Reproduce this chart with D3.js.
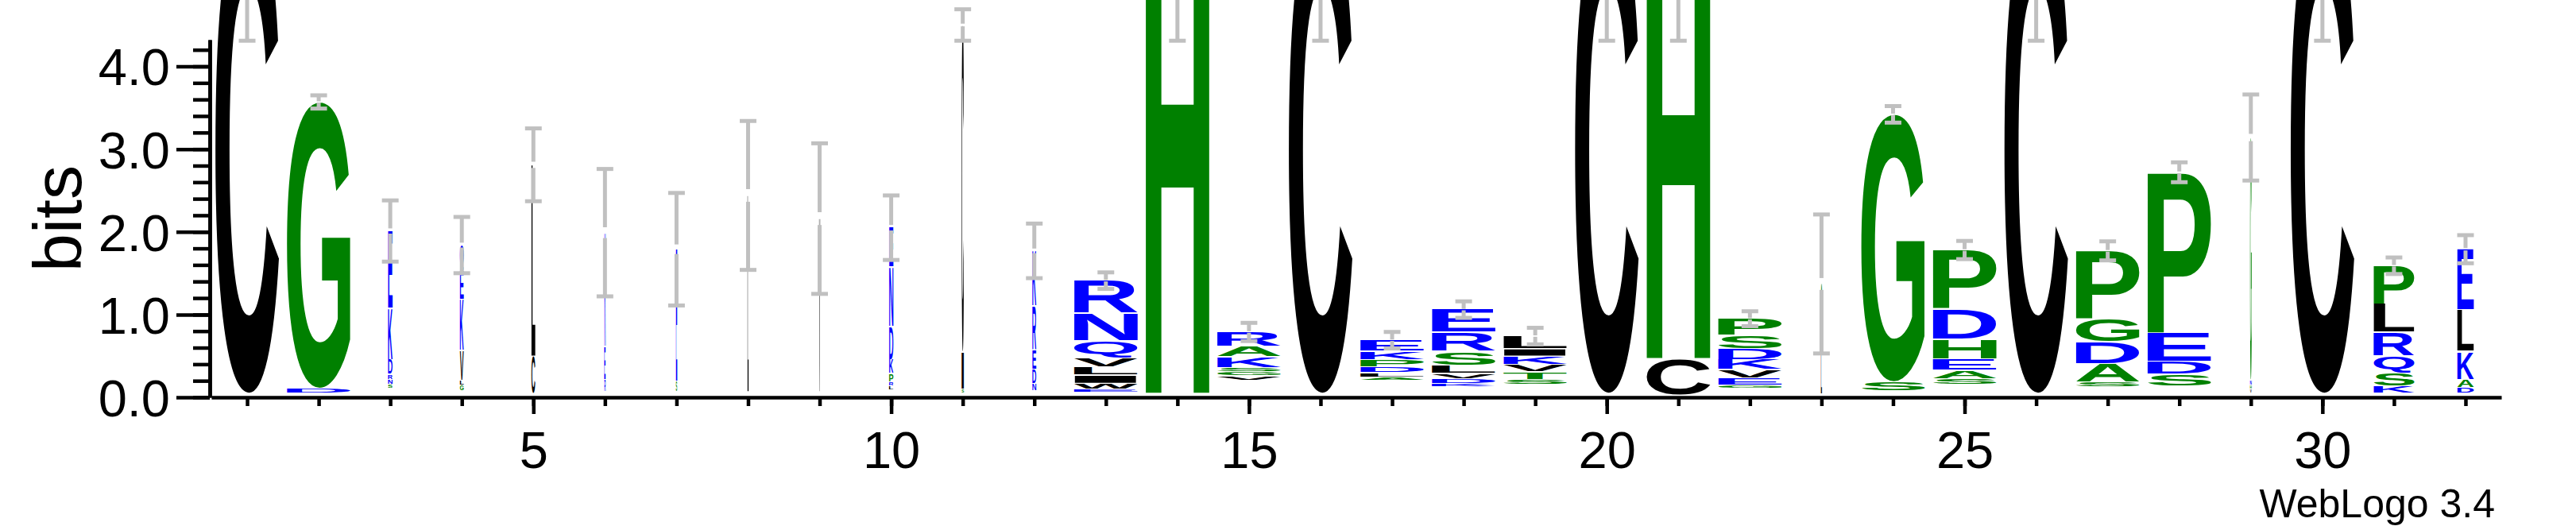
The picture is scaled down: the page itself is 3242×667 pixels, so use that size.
<!DOCTYPE html>
<html>
<head>
<meta charset="utf-8">
<script src="https://cdn.jsdelivr.net/npm/d3@7"></script>
<style>
  html, body { margin: 0; padding: 0; background: #fff; }
  svg { display: block; }
  text { font-family: "Liberation Sans", Arial, Helvetica, sans-serif; }
</style>
</head>
<body>
<script>

// ____________ data (one entry per position 1..32)
// height of each stack in bits, error bar half size, visible fraction of column width
var stackTops = [5.9, 3.57, 2.01, 1.84, 2.81, 1.99, 1.79, 2.44, 2.16, 2.05, 4.5, 1.77, 1.41, 5.9, 0.79, 5.9,
                 0.69, 1.06, 0.74, 5.9, 5.4, 0.95, 1.37, 3.42, 1.78, 5.9, 1.77, 2.72, 3.14, 5.9, 1.59, 1.79]
var stackErrs = [1.59, 0.08, 0.37, 0.34, 0.44, 0.77, 0.68, 0.9, 0.91, 0.39, 0.19, 0.33, 0.10, 1.59, 0.11, 1.59,
                 0.10, 0.10, 0.10, 1.59, 1.09, 0.09, 0.84, 0.10, 0.11, 1.59, 0.115, 0.12, 0.52, 1.59, 0.10, 0.17]
var stackWidths = [1, 1, 0.07, 0.06, 0.06, 0.02, 0.02, 0.015, 0.015, 0.065, 0.035, 0.06, 1, 1, 1, 1,
                   1, 1, 1, 1, 1, 1, 0.015, 1, 1, 1, 1, 1, 0.025, 1, 0.64, 0.26]

// letters of each stack, top to bottom, and their heights in bits
var stackLetters = ["C", "GD", "EKDRNS", "QEKVLG", "LC", "KER", "ES", "L", "V", "ENDKPRL", "CIS", "KREDN",
                    "RNQVLIWE", "H", "RAKSGV", "C", "EKPDLA", "ERSLVDK", "LIKVTS", "C", "HC", "PSDKVEG",
                    "SL", "GS", "PDHEAS", "C", "PGDAS", "PEDS", "GNHV", "C", "PLRQSK", "ELKAD"]
var stackHeights = [
  [5.86],
  [3.47, 0.06],
  [0.94, 0.62, 0.18, 0.06, 0.06, 0.05],
  [0.32, 0.34, 0.62, 0.36, 0.06, 0.07],
  [2.32, 0.45],
  [1.38, 0.4, 0.15],
  [1.6, 0.13],
  [2.38],
  [2.1],
  [0.48, 0.72, 0.4, 0.17, 0.1, 0.05, 0.05],
  [3.96, 0.45, 0.05],
  [0.67, 0.53, 0.24, 0.17, 0.09],
  [0.40, 0.33, 0.21, 0.11, 0.10, 0.10, 0.07, 0.04],
  [5.86],
  [0.18, 0.13, 0.13, 0.05, 0.05, 0.05],
  [5.86],
  [0.14, 0.10, 0.09, 0.07, 0.05, 0.04],
  [0.28, 0.23, 0.17, 0.10, 0.06, 0.06, 0.04],
  [0.16, 0.09, 0.10, 0.09, 0.09, 0.06],
  [5.86],
  [4.94, 0.44],
  [0.21, 0.16, 0.13, 0.12, 0.10, 0.09, 0.04],
  [0.86, 0.48],
  [3.24, 0.11],
  [0.72, 0.36, 0.24, 0.14, 0.10, 0.07],
  [5.86],
  [0.83, 0.28, 0.26, 0.22, 0.06],
  [1.95, 0.34, 0.16, 0.14],
  [2.94, 0.06, 0.05, 0.05],
  [5.86],
  [0.47, 0.34, 0.29, 0.20, 0.16, 0.09],
  [0.74, 0.50, 0.34, 0.10, 0.07]
]

var positions = [1, 2, 3, 4, 5, 6, 7, 8, 9, 10, 11, 12, 13, 14, 15, 16,
                 17, 18, 19, 20, 21, 22, 23, 24, 25, 26, 27, 28, 29, 30, 31, 32]
var yMajorTicks = [0, 1, 2, 3, 4]
var yMinorTicks = [0, 0.2, 0.4, 0.6, 0.8, 1, 1.2, 1.4, 1.6, 1.8, 2, 2.2, 2.4, 2.6, 2.8, 3,
                   3.2, 3.4, 3.6, 3.8, 4, 4.2]
var xMajorTicks = [5, 10, 15, 20, 25, 30]

// hydrophobicity colouring
var hydrophilic = "RKDENQ", neutral = "SGHTAP", hydrophobic = "YVMCLFIW"
function letterColor(ch) {
  if (hydrophilic.indexOf(ch) >= 0) return "#0000ff"
  if (neutral.indexOf(ch) >= 0) return "#008000"
  return "#000000"
}

// ____________ layout
var W = 3242, H = 667
var maxBits = Math.log2(20)

var x = d3.scaleLinear().domain([0.5, 32.5]).range([266, 3148])
var y = d3.scaleLinear().domain([0, maxBits]).range([500, 50])
var pxPerBit = y(0) - y(1)
var fullLetterWidth = 80
var axisWidth = 4.5

var svg = d3.select("body").append("svg")
  .attr("width", W)
  .attr("height", H)
  .attr("viewBox", "0 0 " + W + " " + H)

svg.append("rect").attr("width", W).attr("height", H).attr("fill", "#fff")

// glyph metrics, so a letter can be stretched to fill its box
var canvas = document.createElement("canvas")
var ctx = canvas.getContext("2d")
var glyphSize = 200
ctx.font = "bold " + glyphSize + "px 'Liberation Sans'"
var metrics = {}
function glyph(ch) {
  if (!metrics[ch]) {
    var m = ctx.measureText(ch)
    metrics[ch] = {
      l: m.actualBoundingBoxLeft, r: m.actualBoundingBoxRight,
      a: m.actualBoundingBoxAscent, d: m.actualBoundingBoxDescent
    }
  }
  return metrics[ch]
}

// ____________ stacks
var gLetters = svg.append("g").attr("class", "stacks")

positions.forEach(function (pos, i) {
  var cx = x(pos)
  var w = Math.max(1.3, fullLetterWidth * stackWidths[i])
  var yy = y(stackTops[i])
  var letters = stackLetters[i].split("")
  letters.forEach(function (ch, j) {
    var h = stackHeights[i][j] * pxPerBit
    var hh = h > 4 ? h - 1.5 : h
    if (hh >= 0.8) {
      var g = glyph(ch)
      var sx = w / (g.l + g.r)
      var sy = hh / (g.a + g.d)
      gLetters.append("text")
        .attr("x", 0)
        .attr("y", 0)
        .attr("font-size", glyphSize)
        .attr("font-weight", "bold")
        .attr("fill", letterColor(ch))
        .attr("transform", "translate(" + (cx - w / 2) + "," + yy + ") scale(" + sx + "," + sy + ") translate(" + g.l + "," + g.a + ")")
        .text(ch)
    }
    yy += h
  })
})

// ____________ error bars
var gErr = svg.append("g").attr("class", "errbars")
  .attr("stroke", "#c0c0c0")
  .attr("stroke-width", 5)

positions.forEach(function (pos, i) {
  var cx = x(pos)
  var top = stackTops[i], e = stackErrs[i]
  var gap = 0.085 * e
  gErr.append("line").attr("x1", cx).attr("x2", cx)
    .attr("y1", y(top + e)).attr("y2", y(top + gap))
  gErr.append("line").attr("x1", cx).attr("x2", cx)
    .attr("y1", y(top - gap)).attr("y2", y(top - e))
  ;[top + e, top - e].forEach(function (v) {
    gErr.append("line")
      .attr("x1", cx - 10.5).attr("x2", cx + 10.5)
      .attr("y1", y(v)).attr("y2", y(v))
  })
})

// ____________ axes
function styleAxis(sel) {
  sel.selectAll("path, line").attr("stroke", "#000").attr("stroke-width", axisWidth)
  sel.selectAll("text").attr("fill", "#000").attr("font-size", 65)
    .attr("font-family", "'Liberation Sans', Arial, sans-serif")
}

var yMinor = svg.append("g")
  .attr("transform", "translate(264,0)")
  .call(d3.axisLeft(y).tickValues(yMinorTicks).tickSize(21).tickSizeOuter(0).tickFormat(""))
styleAxis(yMinor)

var yMajor = svg.append("g")
  .attr("transform", "translate(264,0)")
  .call(d3.axisLeft(y).tickValues(yMajorTicks).tickSize(42).tickSizeOuter(0)
    .tickPadding(8).tickFormat(d3.format(".1f")))
styleAxis(yMajor)
yMajor.selectAll("text").attr("dy", "0.36em")

var xMinor = svg.append("g")
  .attr("transform", "translate(0,500)")
  .call(d3.axisBottom(x).tickValues(positions).tickSize(11).tickSizeOuter(0).tickFormat(""))
styleAxis(xMinor)

var xMajor = svg.append("g")
  .attr("transform", "translate(0,500)")
  .call(d3.axisBottom(x).tickValues(xMajorTicks).tickSize(21).tickSizeOuter(0)
    .tickPadding(22).tickFormat(d3.format("d")))
styleAxis(xMajor)
xMajor.select(".domain").remove()

// y axis title
svg.append("text")
  .attr("transform", "translate(102,275) rotate(-90)")
  .attr("text-anchor", "middle")
  .attr("font-size", 86)
  .attr("fill", "#000")
  .text("bits")

// credit line
svg.append("text")
  .attr("x", 3140)
  .attr("y", 651)
  .attr("text-anchor", "end")
  .attr("font-size", 50)
  .attr("fill", "#000")
  .text("WebLogo 3.4")

</script>
</body>
</html>
